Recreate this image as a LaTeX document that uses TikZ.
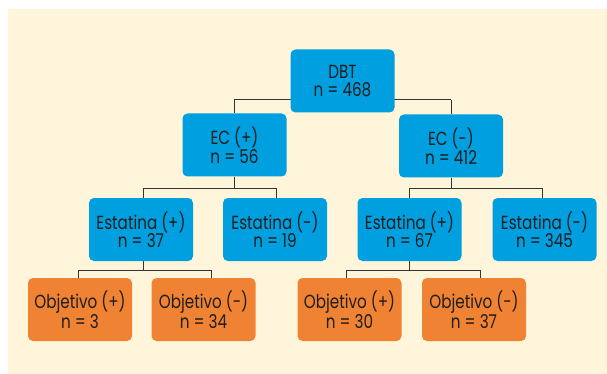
\documentclass[tikz,border=0pt]{standalone}
\usepackage{fontspec}
\setmainfont[FakeStretch=0.8]{Poppins}
\definecolor{bgcream}{HTML}{FEF5DA}
\definecolor{boxblue}{HTML}{009FE0}
\definecolor{boxorange}{HTML}{F08234}
\definecolor{txt}{HTML}{1E1E1E}
\definecolor{linec}{HTML}{333333}
\tikzset{
  box/.style={rounded corners=5pt, minimum width=104pt, minimum height=63pt, inner sep=0pt,
    text=txt, align=center, font=\fontsize{19}{18.5}\selectfont},
  bluebox/.style={box, fill=boxblue},
  orangebox/.style={box, fill=boxorange},
  conn/.style={draw=linec, line width=1pt}
}
\begin{document}
\begin{tikzpicture}[x=1pt,y=-1pt]
\useasboundingbox (0,0) rectangle (607,374);
\fill[bgcream] (8,9) rectangle (607,374);
% coordinates for connectors
\coordinate (l1a) at (234,100);
\coordinate (l1b) at (451,100);
\coordinate (l2a) at (143,188);
\coordinate (l2b) at (276,188);
\coordinate (l2c) at (409,188);
\coordinate (l2d) at (542,188);
\coordinate (l3a) at (78,270);
\coordinate (l3b) at (211,270);
\coordinate (l3c) at (346,270);
\coordinate (l3d) at (480,270);
% connectors drawn first (behind boxes)
\draw[conn] (l1a) -- (l1b);
\draw[conn] (l2a) -- (l2b);
\draw[conn] (l2c) -- (l2d);
\draw[conn] (l3a) -- (l3b);
\draw[conn] (l3c) -- (l3d);
% nodes
\node[bluebox] (dbt) at (342.5,81) {DBT\\n = 468};
\node[bluebox] (ecp) at (234.5,145) {EC (+)\\n = 56};
\node[bluebox] (ecm) at (451,146) {EC (-)\\n = 412};
\node[bluebox] (esp1) at (141,229.5) {Estatina (+)\\n = 37};
\node[bluebox] (esm1) at (275,229.5) {Estatina (-)\\n = 19};
\node[bluebox] (esp2) at (409.5,229.5) {Estatina (+)\\n = 67};
\node[bluebox] (esm2) at (544.5,229.5) {Estatina (-)\\n = 345};
\node[orangebox] (obp1) at (80,309.5) {Objetivo (+)\\n = 3};
\node[orangebox] (obm1) at (203.5,309.5) {Objetivo (-)\\n = 34};
\node[orangebox] (obp2) at (349.5,309.5) {Objetivo (+)\\n = 30};
\node[orangebox] (obm2) at (474,309.5) {Objetivo (-)\\n = 37};
% vertical connectors
\draw[conn] (l1a) -- (l1a |- ecp.north);
\draw[conn] (l1b) -- (l1b |- ecm.north);
\draw[conn] (ecp.south) -- (ecp.south |- l2a);
\draw[conn] (ecm.south) -- (ecm.south |- l2c);
\draw[conn] (l2a) -- (l2a |- esp1.north);
\draw[conn] (l2b) -- (l2b |- esm1.north);
\draw[conn] (l2c) -- (l2c |- esp2.north);
\draw[conn] (l2d) -- (l2d |- esm2.north);
\draw[conn] (esp1.south -| l2a) -- (l2a |- l3a);
\draw[conn] (esp2.south -| l2c) -- (l2c |- l3c);
\draw[conn] (l3a) -- (l3a |- obp1.north);
\draw[conn] (l3b) -- (l3b |- obm1.north);
\draw[conn] (l3c) -- (l3c |- obp2.north);
\draw[conn] (l3d) -- (l3d |- obm2.north);
\end{tikzpicture}
\end{document}
